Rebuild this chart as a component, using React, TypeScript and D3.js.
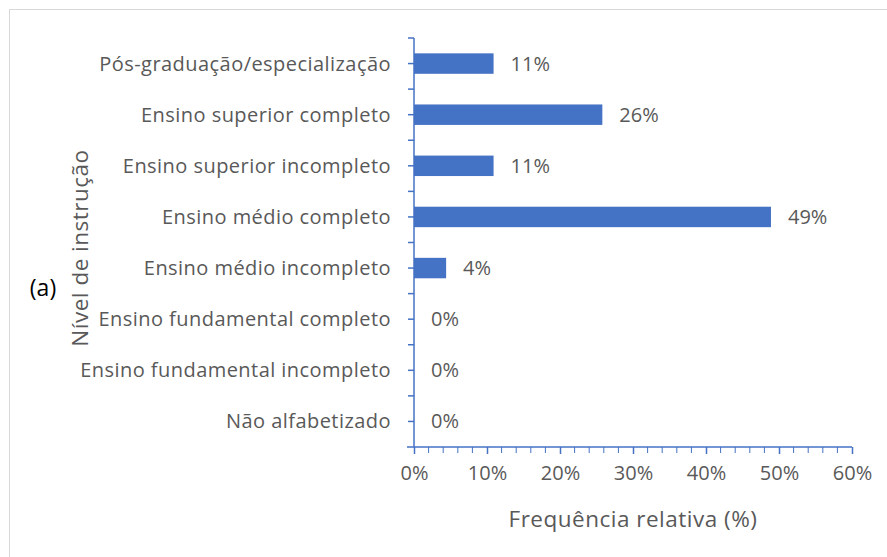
import React, { useRef, useEffect } from 'react';
import * as d3 from 'd3';

const categories = [
  'Pós-graduação/especialização',
  'Ensino superior completo',
  'Ensino superior incompleto',
  'Ensino médio completo',
  'Ensino médio incompleto',
  'Ensino fundamental completo',
  'Ensino fundamental incompleto',
  'Não alfabetizado',
];
const values = [10.9, 25.8, 10.9, 48.9, 4.4, 0, 0, 0];
const valueLabels = ['11%', '26%', '11%', '49%', '4%', '0%', '0%', '0%'];
const xTicks = [0, 10, 20, 30, 40, 50, 60];

const W = 887;
const H = 557;
const FONT = '"Open Sans", sans-serif';
const GRAY = '#595959';
const BLUE = '#4472C4';
const FS = 20;
const LS = 0.45;

const App = () => {
  const svgRef = useRef<SVGSVGElement>(null);
  useEffect(() => {
    const svg = d3.select(svgRef.current);
    svg.selectAll('*').remove();

    // moldura do gráfico
    svg.append('rect')
      .attr('x', 9.5).attr('y', 9.5)
      .attr('width', W + 10).attr('height', H + 10)
      .attr('fill', '#fff').attr('stroke', '#d9d9d9');

    const x = d3.scaleLinear().domain([0, 60]).range([414, 852]);
    const y = d3.scaleBand().domain(categories).range([38, 447]).paddingInner(0.6).paddingOuter(0.3);
    const yb = d3.scaleBand().domain(categories).range([38, 447]);

    // barras
    svg.append('g').selectAll('rect')
      .data(categories)
      .join('rect')
      .attr('x', x(0))
      .attr('y', d => y(d)!)
      .attr('width', (d, i) => x(values[i]) - x(0))
      .attr('height', y.bandwidth())
      .attr('fill', BLUE);

    // rótulos de valores
    svg.append('g').selectAll('text')
      .data(categories)
      .join('text')
      .attr('x', (d, i) => x(values[i]) + 17)
      .attr('y', d => yb(d)! + yb.bandwidth() / 2)
      .attr('dy', '0.35em')
      .attr('font-family', FONT).attr('font-size', FS).attr('fill', GRAY)
      .text((d, i) => valueLabels[i]);

    // eixo y
    const yAxisG = svg.append('g');
    yAxisG.append('line')
      .attr('x1', x(0)).attr('x2', x(0)).attr('y1', 38).attr('y2', 447)
      .attr('stroke', BLUE).attr('stroke-width', 1.5);
    const yTickPos: number[] = [];
    categories.forEach(c => {
      yTickPos.push(yb(c)!);
      yTickPos.push(yb(c)! + yb.bandwidth() / 2);
    });
    yAxisG.selectAll('line.tick')
      .data(yTickPos)
      .join('line')
      .attr('class', 'tick')
      .attr('x1', x(0) - 6).attr('x2', x(0))
      .attr('y1', d => d).attr('y2', d => d)
      .attr('stroke', BLUE).attr('stroke-width', 1.5);
    yAxisG.selectAll('text')
      .data(categories)
      .join('text')
      .attr('x', 391)
      .attr('y', d => yb(d)! + yb.bandwidth() / 2)
      .attr('dy', '0.35em')
      .attr('text-anchor', 'end')
      .attr('letter-spacing', LS)
      .attr('font-family', FONT).attr('font-size', FS).attr('fill', GRAY)
      .text(d => d);

    // eixo x
    const xAxis = d3.axisBottom(x).tickValues(xTicks).tickSize(7).tickPadding(12)
      .tickFormat(d => `${d}%`);
    const xg = svg.append('g').attr('transform', 'translate(0,447)').call(xAxis);
    xg.select('.domain').attr('stroke', BLUE).attr('stroke-width', 1.5)
      .attr('d', `M${x(0) - 7},0H${x(60)}`);
    xg.selectAll('.tick line').attr('stroke', BLUE).attr('stroke-width', 1.5);
    xg.selectAll('.tick text')
      .attr('font-family', FONT).attr('font-size', FS).attr('fill', GRAY);
    const minor = d3.range(0, 61, 2).filter(v => v % 10 !== 0);
    xg.selectAll('line.minor')
      .data(minor)
      .join('line')
      .attr('class', 'minor')
      .attr('x1', d => x(d)).attr('x2', d => x(d))
      .attr('y1', 0).attr('y2', 6)
      .attr('stroke', BLUE).attr('stroke-width', 1);

    // títulos
    svg.append('text')
      .attr('x', 633).attr('y', 519).attr('dy', '0.35em')
      .attr('text-anchor', 'middle')
      .attr('letter-spacing', 0.5)
      .attr('font-family', FONT).attr('font-size', 22.5).attr('fill', GRAY)
      .text('Frequência relativa (%)');
    svg.append('text')
      .attr('transform', 'translate(80,248) rotate(-90)')
      .attr('dy', '0.35em')
      .attr('text-anchor', 'middle')
      .attr('letter-spacing', 0.5)
      .attr('font-family', FONT).attr('font-size', 22.5).attr('fill', GRAY)
      .text('Nível de instrução');
    svg.append('text')
      .attr('x', 43).attr('y', 288).attr('dy', '0.35em')
      .attr('text-anchor', 'middle')
      .attr('font-family', FONT).attr('font-size', 23).attr('fill', '#000')
      .text('(a)');
  }, []);

  return (
    <svg ref={svgRef} width={W} height={H}
      style={{ position: 'absolute', left: 0, top: 0, display: 'block' }} />
  );
};

export default App;
